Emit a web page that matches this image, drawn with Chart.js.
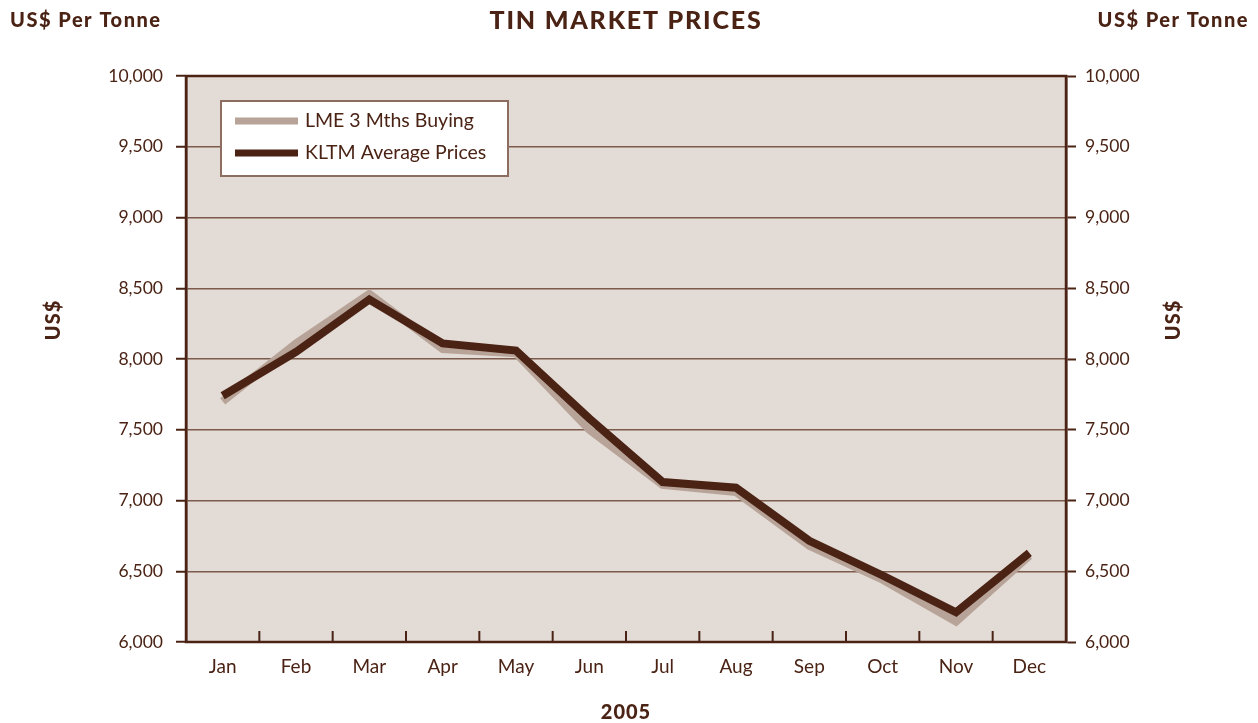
<!DOCTYPE html>
<html lang="en">
<head>
    <meta charset="UTF-8">
    <title>Tin Market Prices</title>
    <script src="https://cdn.jsdelivr.net/npm/chart.js"></script>
    <style>
        html, body { margin: 0; padding: 0; background: #fff; }
        #wrap { width: 1258px; height: 723px; position: relative; }
    </style>
</head>
<body>
    <div id="wrap"><canvas id="tinChart"></canvas></div>

    <script>
        // 2005 monthly prices, US$ per tonne
        const months = ["Jan", "Feb", "Mar", "Apr", "May", "Jun", "Jul", "Aug", "Sep", "Oct", "Nov", "Dec"];
        const lmeBuying = [7700, 8110, 8460, 8070, 8040, 7500, 7110, 7060, 6680, 6440, 6145, 6610];
        const kltmAverage = [7740, 8050, 8420, 8110, 8060, 7580, 7130, 7090, 6715, 6470, 6210, 6630];
        const yTicks = [6000, 6500, 7000, 7500, 8000, 8500, 9000, 9500, 10000];

        const ink = "#4a2315";
        const gridBrown = "#7c5a4c";
        const plotFill = "#e3dbd5";
        const fontFam = "Lato, 'Open Sans', sans-serif";

        const decor = {
            id: "decor",
            beforeDraw(chart) {
                const { ctx, chartArea: a } = chart;
                ctx.save();
                ctx.fillStyle = plotFill;
                ctx.fillRect(a.left, a.top, a.right - a.left, a.bottom - a.top);
                ctx.restore();
            },
            afterDatasetsDraw(chart) {
                const { ctx, chartArea: a, scales } = chart;
                const x = scales.x;
                ctx.save();
                // frame
                ctx.strokeStyle = ink;
                ctx.lineWidth = 2.5;
                ctx.strokeRect(a.left, a.top, a.right - a.left, a.bottom - a.top);
                // inner tick marks between months
                ctx.lineWidth = 2;
                for (let i = 0; i < months.length - 1; i++) {
                    const px = (x.getPixelForValue(i) + x.getPixelForValue(i + 1)) / 2;
                    ctx.beginPath();
                    ctx.moveTo(px, a.bottom);
                    ctx.lineTo(px, a.bottom - 11);
                    ctx.stroke();
                }

                // legend
                const bx = a.left + 35, by = a.top + 25, bw = 287, bh = 75;
                ctx.fillStyle = "#fff";
                ctx.fillRect(bx, by, bw, bh);
                ctx.strokeStyle = "#8c6d60";
                ctx.lineWidth = 2;
                ctx.strokeRect(bx, by, bw, bh);
                ctx.font = "19.5px " + fontFam;
                ctx.textBaseline = "middle";
                chart.data.datasets.forEach((ds, i) => {
                    const ly = by + 20 + i * 32;
                    ctx.strokeStyle = ds.borderColor;
                    ctx.lineWidth = 7;
                    ctx.beginPath();
                    ctx.moveTo(bx + 14, ly);
                    ctx.lineTo(bx + 77, ly);
                    ctx.stroke();
                    ctx.fillStyle = ink;
                    ctx.fillText(ds.label, bx + 84, ly);
                });

                // titles
                ctx.fillStyle = ink;
                ctx.textBaseline = "middle";
                ctx.font = "900 25px " + fontFam;
                ctx.letterSpacing = "1.8px";
                ctx.textAlign = "center";
                ctx.fillText("TIN MARKET PRICES", (a.left + a.right) / 2, 21);
                ctx.font = "900 20px " + fontFam;
                ctx.letterSpacing = "1.5px";
                ctx.textAlign = "left";
                ctx.fillText("US$ Per Tonne", 10, 21);
                ctx.textAlign = "right";
                ctx.fillText("US$ Per Tonne", 1249, 21);
                ctx.letterSpacing = "1px";
                ctx.textAlign = "center";
                ctx.fillText("2005", (a.left + a.right) / 2, 713);
                [54, 1174].forEach(cx => {
                    ctx.save();
                    ctx.translate(cx, 320);
                    ctx.rotate(-Math.PI / 2);
                    ctx.fillText("US$", 0, 0);
                    ctx.restore();
                });
                ctx.restore();
            }
        };

        const tickFmt = v => v.toLocaleString("en-US");

        new Chart(document.getElementById("tinChart"), {
            type: "line",
            data: {
                labels: months,
                datasets: [
                    { label: "LME 3 Mths Buying", data: lmeBuying, borderColor: "#b7a397", borderWidth: 8, order: 2 },
                    { label: "KLTM Average Prices", data: kltmAverage, borderColor: "#4b2314", borderWidth: 8, order: 1 }
                ]
            },
            options: {
                responsive: true,
                maintainAspectRatio: false,
                animation: false,
                layout: { padding: { top: 76, left: 0, right: 0, bottom: 0 } },
                elements: {
                    point: { radius: 0 },
                    line: { tension: 0, borderJoinStyle: "miter", borderCapStyle: "butt", fill: false }
                },
                plugins: {
                    legend: { display: false },
                    tooltip: { enabled: false }
                },
                scales: {
                    x: {
                        offset: true,
                        grid: { display: false, drawTicks: false },
                        border: { display: false },
                        ticks: { color: ink, padding: 13, font: { family: fontFam, size: 19 } },
                        afterFit(s) { s.height = 81; }
                    },
                    y: {
                        position: "left",
                        min: 6000, max: 10000,
                        afterBuildTicks(s) { s.ticks = yTicks.map(v => ({ value: v })); },
                        grid: { color: gridBrown, lineWidth: 1.5, tickLength: 10, tickColor: ink, tickWidth: 2 },
                        border: { color: ink, width: 2.5 },
                        ticks: { color: ink, padding: 13, callback: tickFmt, font: { family: fontFam, size: 17.5 } },
                        afterFit(s) { s.width = 186; }
                    },
                    y2: {
                        position: "right",
                        min: 6000, max: 10000,
                        afterBuildTicks(s) { s.ticks = yTicks.map(v => ({ value: v })); },
                        grid: { drawOnChartArea: false, tickLength: 10, tickColor: ink, tickWidth: 2 },
                        border: { color: ink, width: 2.5 },
                        ticks: { color: ink, padding: 9, callback: tickFmt, font: { family: fontFam, size: 17.5 } },
                        afterFit(s) { s.width = 192; }
                    }
                }
            },
            plugins: [decor]
        });
    </script>
</body>
</html>
